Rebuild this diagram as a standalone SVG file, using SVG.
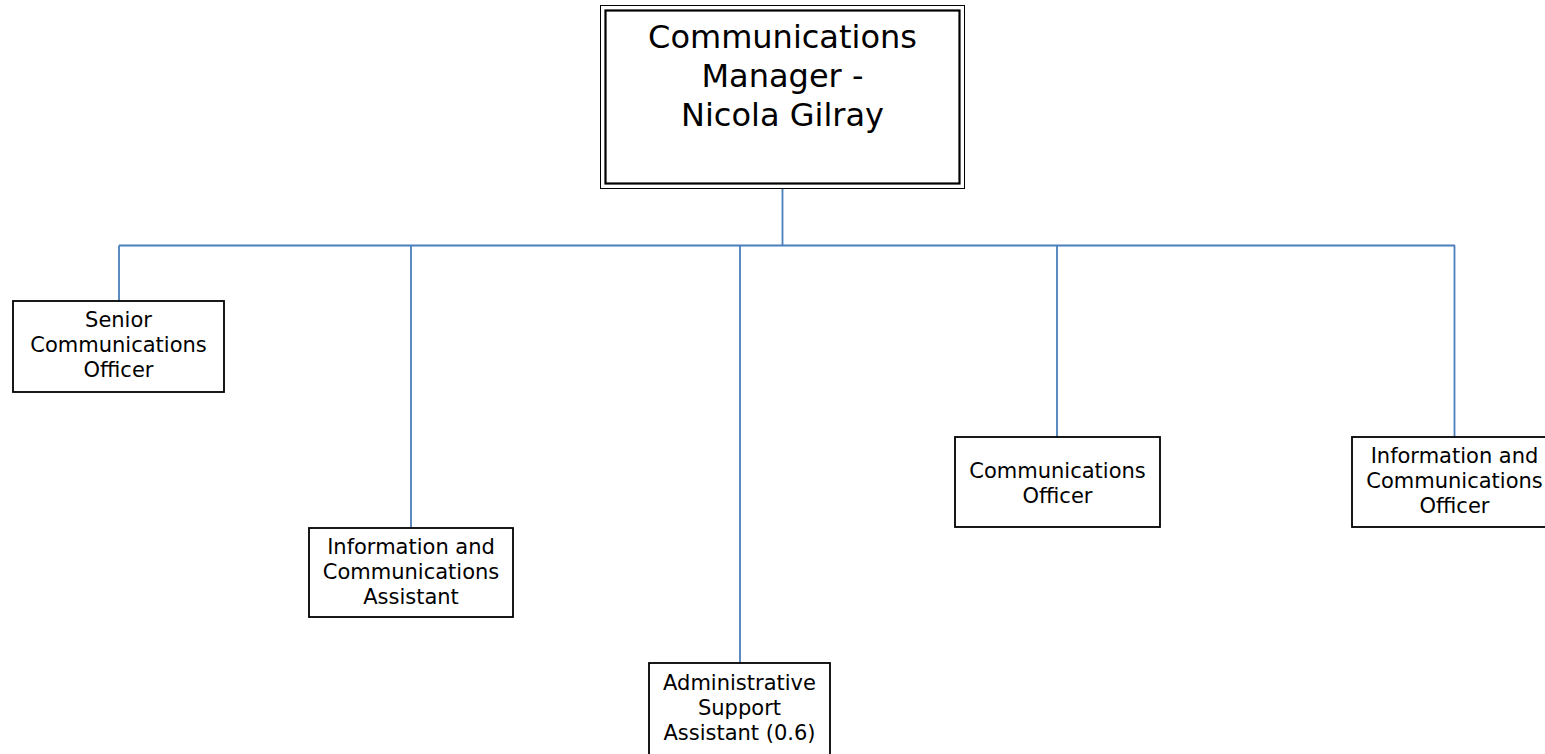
<svg xmlns="http://www.w3.org/2000/svg" width="1545" height="754" viewBox="0 0 1545 754">
<style>
  .box { fill: #ffffff; stroke: #000000; stroke-width: 1.8; }
  .thin { fill: none; stroke: #000000; stroke-width: 1; }
  .txt { font-family: "DejaVu Sans", Verdana, sans-serif; font-size: 21px; fill: #000000; text-anchor: middle; }
  .big { font-size: 32px; }
  .conn { fill: none; stroke: #4a7ebb; stroke-width: 1.8; }
</style>
<rect width="1545" height="754" fill="#ffffff"/>
<g id="connectors">
  <path class="conn" d="M782.5 188 V245.5"/>
  <path class="conn" d="M119 245.5 H1455"/>
  <path class="conn" d="M119 245.5 V301"/>
  <path class="conn" d="M411 245.5 V528"/>
  <path class="conn" d="M740 245.5 V663"/>
  <path class="conn" d="M1057 245.5 V437"/>
  <path class="conn" d="M1454.5 245.5 V437"/>
</g>
<g id="manager">
  <rect class="thin" x="600.5" y="5.5" width="364" height="183"/>
  <rect class="box" x="605.5" y="10.5" width="354" height="173" style="stroke-width:2.2"/>
  <text class="txt big" x="782.5" y="48">Communications</text>
  <text class="txt big" x="782.5" y="87">Manager -</text>
  <text class="txt big" x="782.5" y="126">Nicola Gilray</text>
</g>
<g id="senior-officer">
  <rect class="box" x="13" y="301" width="211" height="91"/>
  <text class="txt" x="118.5" y="327">Senior</text>
  <text class="txt" x="118.5" y="352">Communications</text>
  <text class="txt" x="118.5" y="377">Officer</text>
</g>
<g id="ic-assistant">
  <rect class="box" x="309" y="528" width="204" height="89"/>
  <text class="txt" x="411" y="554">Information and</text>
  <text class="txt" x="411" y="579">Communications</text>
  <text class="txt" x="411" y="604">Assistant</text>
</g>
<g id="admin-assistant">
  <rect class="box" x="649" y="663" width="181" height="100"/>
  <text class="txt" x="739.5" y="690">Administrative</text>
  <text class="txt" x="739.5" y="715">Support</text>
  <text class="txt" x="739.5" y="740">Assistant (0.6)</text>
</g>
<g id="comms-officer">
  <rect class="box" x="955" y="437" width="205" height="90"/>
  <text class="txt" x="1057.5" y="478">Communications</text>
  <text class="txt" x="1057.5" y="503">Officer</text>
</g>
<g id="ic-officer">
  <rect class="box" x="1352" y="437" width="205" height="90"/>
  <text class="txt" x="1454.5" y="463">Information and</text>
  <text class="txt" x="1454.5" y="488">Communications</text>
  <text class="txt" x="1454.5" y="513">Officer</text>
</g>
</svg>
